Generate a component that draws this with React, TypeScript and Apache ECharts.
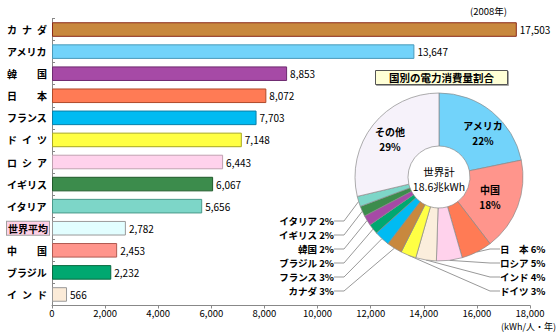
import React, { useEffect, useRef } from 'react';
import * as echarts from 'echarts';

// ---- data ----
const categories = ['カナダ', 'アメリカ', '韓国', '日本', 'フランス', 'ドイツ', 'ロシア', 'イギリス', 'イタリア', '世界平均', '中国', 'ブラジル', 'インド'];
const categoryLabels = ['カ\u2002ナ\u2002ダ', 'アメリカ', '韓\u3000\u3000国', '日\u3000\u3000本', 'フランス', 'ド\u2002イ\u2002ツ', 'ロ\u2002シ\u2002ア', 'イギリス', 'イタリア', '世界平均', '中\u3000\u3000国', 'ブラジル', 'イ\u2002ン\u2002ド'];
const values = [17503, 13647, 8853, 8072, 7703, 7148, 6443, 6067, 5656, 2782, 2453, 2232, 566];
const barColors = ['#C8883E', '#72D3FA', '#A64AA6', '#FF7B55', '#00BBF2', '#FFFF44', '#FFD2EC', '#3C8C4C', '#7DD6C8', '#E2FEFF', '#FF958C', '#00A870', '#FBEBD8'];
const barBorders = ['#8A2A1A', '#4A9ABA', '#6E2A70', '#B04A2A', '#0A80A8', '#A8A820', '#C0A0B0', '#1F5A2A', '#4A9A8A', '#999999', '#B05A52', '#0A6A40', '#999999'];

const pieNames = ['アメリカ', '中国', '日　本', 'ロシア', 'インド', 'ドイツ', 'カナダ', 'フランス', 'ブラジル', '韓国', 'イギリス', 'イタリア', 'その他'];
const pieValues = [22, 18, 6, 5, 4, 3, 3, 3, 2, 2, 2, 2, 29];
const pieColors = ['#72D3FA', '#FF958C', '#FF7B55', '#FFD2EC', '#FBEEDC', '#FFFF44', '#C8883E', '#00BBF2', '#00A870', '#A64AA6', '#3C8C4C', '#7DD6C8', '#F6F2FA'];
const pieInside = [true, true, false, false, false, false, false, false, false, false, false, false, true];

const FONT = '"Noto Sans CJK JP", "Noto Sans", sans-serif';

export default function App() {
  const ref = useRef<HTMLDivElement>(null);

  useEffect(() => {
    document.body.style.margin = '0';
    if (!ref.current) return;
    const chart = echarts.init(ref.current, null, { renderer: 'svg' });

    // label text positions for pie labels
    const labelPos: Record<number, [number, number, string]> = {
      0: [483, 133, 'center'],
      1: [490, 197, 'center'],
      12: [390, 139, 'center'],
      2: [500, 249, 'left'],
      3: [500, 263, 'left'],
      4: [500, 277, 'left'],
      5: [500, 291, 'left'],
      6: [334, 291, 'right'],
      7: [334, 277, 'right'],
      8: [334, 263, 'right'],
      9: [334, 249, 'right'],
      10: [334, 235, 'right'],
      11: [334, 221, 'right'],
    };

    const option: any = {
      animation: false,
      textStyle: { fontFamily: FONT },
      grid: { left: 52, right: 30, top: 18.5, bottom: 29.5 },
      xAxis: {
        type: 'value',
        min: 0,
        max: 18000,
        interval: 2000,
        axisLine: { show: true, lineStyle: { color: '#888' } },
        axisTick: { show: true, length: 3, lineStyle: { color: '#888' } },
        splitLine: { show: false },
        axisLabel: {
          color: '#000',
          fontSize: 9.5,
          fontFamily: FONT,
          margin: 3,
          formatter: (v: number) => v.toLocaleString('en-US'),
        },
      },
      yAxis: {
        type: 'category',
        inverse: true,
        data: categories,
        axisLine: { show: true, lineStyle: { color: '#888' } },
        axisTick: { show: true, inside: true, length: 3, lineStyle: { color: '#888' } },
        axisLabel: {
          align: 'left',
          margin: 45,
          formatter: (v: string) => {
            const i = categories.indexOf(v);
            const t = categoryLabels[i];
            return v === '世界平均' ? '{hl|' + t + '}' : '{n|' + t + '}';
          },
          rich: {
            n: { fontSize: 10, fontWeight: 'bold', color: '#000', fontFamily: FONT },
            hl: {
              fontSize: 10,
              fontWeight: 'bold',
              color: '#000',
              fontFamily: FONT,
              backgroundColor: '#FFD0E6',
              borderColor: '#A0A0A0',
              borderWidth: 1,
              padding: [2, 1, 1, 1],
            },
          },
        },
      },
      title: {
        text: '国別の電力消費量割合',
        left: 375,
        top: 70,
        padding: [2, 14, 2, 14],
        backgroundColor: '#FFFFD6',
        borderColor: '#555',
        borderWidth: 1,
        shadowColor: 'rgba(0,0,0,0.35)',
        shadowOffsetX: 1,
        shadowOffsetY: 1,
        shadowBlur: 1,
        textStyle: { fontSize: 10.5, fontWeight: 'bold', color: '#000', fontFamily: FONT },
      },
      graphic: [
        {
          type: 'text',
          left: 470,
          top: 6,
          style: { text: '(2008年)', fontSize: 9.5, fill: '#000', fontFamily: FONT },
        },
        {
          type: 'text',
          right: 4,
          top: 322,
          style: { text: '(kWh/人・年)', fontSize: 9, fill: '#000', fontFamily: FONT },
        },
        {
          type: 'text',
          x: 439,
          y: 179,
          z: 100,
          style: {
            text: '世界計\n18.6兆kWh',
            fontSize: 10.5,
            lineHeight: 15,
            fill: '#000',
            fontFamily: FONT,
            align: 'center',
            verticalAlign: 'middle',
          },
        },
      ],
      series: [
        {
          type: 'bar',
          barCategoryGap: '34%',
          data: values.map((v, i) => ({
            value: v,
            itemStyle: { color: barColors[i], borderColor: barBorders[i], borderWidth: 1 },
          })),
          label: {
            show: true,
            position: 'right',
            distance: 3,
            fontSize: 10,
            color: '#000',
            fontFamily: FONT,
            formatter: (p: any) => Number(p.value).toLocaleString('en-US'),
          },
        },
        {
          type: 'pie',
          center: [439, 177],
          radius: [31, 84],
          startAngle: 90,
          clockwise: true,
          avoidLabelOverlap: false,
          itemStyle: { borderColor: '#8a8a8a', borderWidth: 0.7 },
          label: {
            show: true,
            position: 'outside',
            fontSize: 9.5,
            fontWeight: 'bold',
            color: '#000',
            fontFamily: FONT,
            formatter: (p: any) => (pieInside[p.dataIndex] ? p.name + '\n' + p.value + '%' : p.name + ' ' + p.value + '%'),
          },
          labelLine: { show: true, length: 8, length2: 10, lineStyle: { color: '#999', width: 1 } },
          labelLayout: (p: any) => {
            const pos = labelPos[p.dataIndex];
            if (!pos) return {};
            return { x: pos[0], y: pos[1], align: pos[2], verticalAlign: 'middle' };
          },
          data: pieValues.map((v, i) => ({
            name: pieNames[i],
            value: v,
            itemStyle: { color: pieColors[i] },
            label: pieInside[i]
              ? { position: 'inside', fontSize: 10, lineHeight: 15 }
              : { position: 'outside' },
            labelLine: { show: !pieInside[i] },
          })),
        },
      ],
    };

    chart.setOption(option);
    return () => chart.dispose();
  }, []);

  return <div ref={ref} style={{ width: 560, height: 335 }} />;
}
